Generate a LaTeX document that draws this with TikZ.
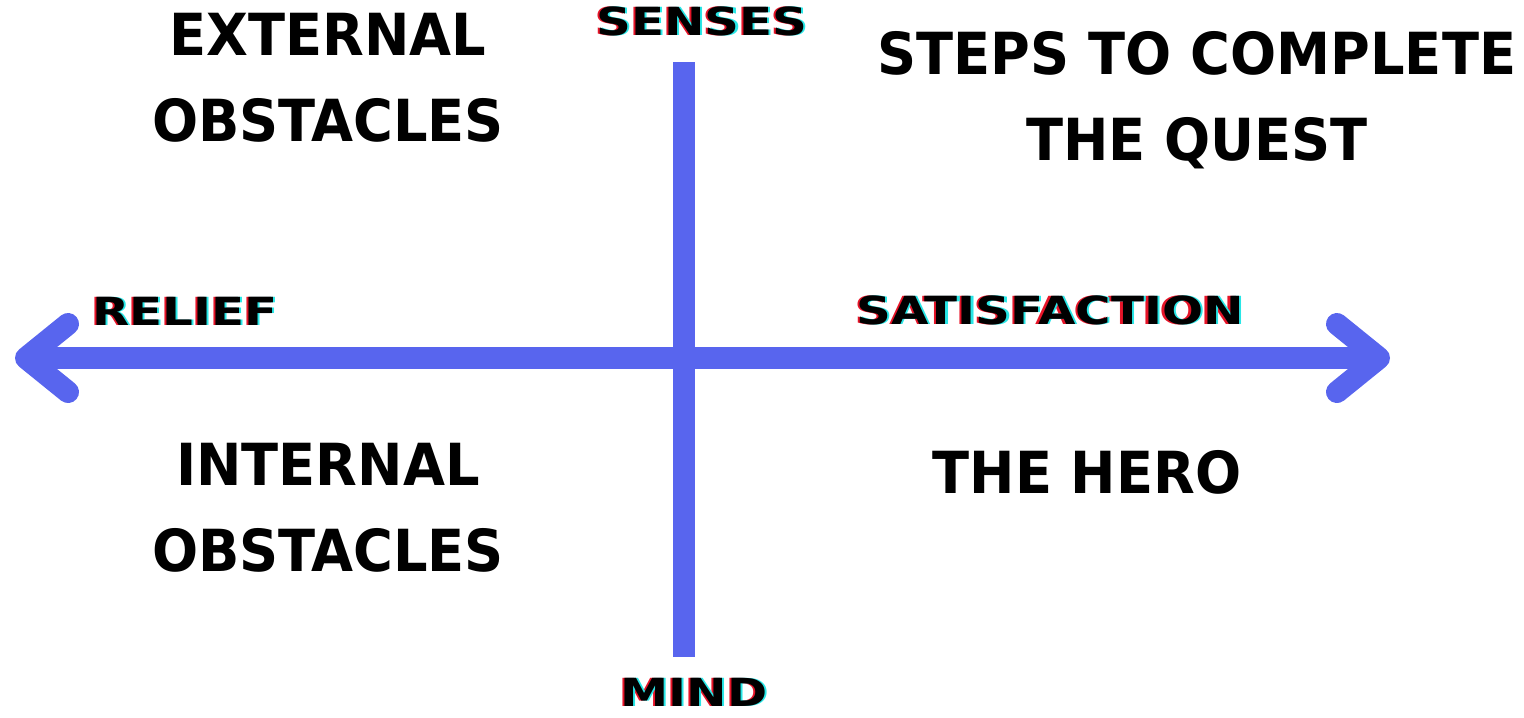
\documentclass[tikz,border=0pt]{standalone}
\usepackage{fontspec}
\setmainfont{DejaVu Sans}
\usepackage{xcolor}
\usetikzlibrary{arrows.meta}

\definecolor{axisblue}{RGB}{88,101,238}
\definecolor{glitchred}{RGB}{230,20,40}
\definecolor{glitchcyan}{RGB}{40,230,230}

% text with a red/cyan offset shadow
\newcommand{\glitch}[1]{%
  \makebox[0pt][l]{\kern-0.5pt\textcolor{glitchred}{#1}}%
  \makebox[0pt][l]{\kern0.5pt\textcolor{glitchcyan}{#1}}%
  #1}

\begin{document}
\begin{tikzpicture}[
    x=0.01cm, y=-0.01cm,
    axis/.style={line width=0.22cm, draw=axisblue},
    barb/.tip={Straight Barb[round,length=4.2mm,width=6.8mm]},
    quad/.style={inner sep=0pt, align=center, xscale=0.935,
      font=\bfseries\fontsize{16.5}{24.5}\selectfont},
    pole/.style={inner sep=0pt, xscale=1.25, font=\bfseries\fontsize{11}{13}\selectfont},
  ]
  \useasboundingbox (0,0) rectangle (1524,717);

  %% ---- axes ----------------------------------------------------------
  \coordinate (top)    at (684,62);
  \coordinate (bottom) at (684,657);
  \coordinate (west)   at (15,358);
  \coordinate (east)   at (1390,358);
  \draw[axis] (top) -- (bottom);
  \draw[axis, line cap=round, barb-barb] (west) -- (east);

  %% ---- pole labels ---------------------------------------------------
  \node[pole] (senses) at (702,21)  {\glitch{SENSES}};
  \node[pole] (mind)   at (694,692) {\glitch{MIND}};
  \node[pole] (relief) at (185,311) {\glitch{RELIEF}};
  \node[pole] (satis)  at (1050,310) {\glitch{SATISFACTION}};

  %% ---- quadrants -----------------------------------------------------
  \node[quad] (external) at (328,78)   {EXTERNAL\\OBSTACLES};
  \node[quad] (steps)    at (1197,100) {STEPS TO COMPLETE\\THE QUEST};
  \node[quad] (internal) at (328,508)  {INTERNAL\\OBSTACLES};
  \node[quad] (hero)     at (1087,472) {THE HERO};
\end{tikzpicture}
\end{document}
